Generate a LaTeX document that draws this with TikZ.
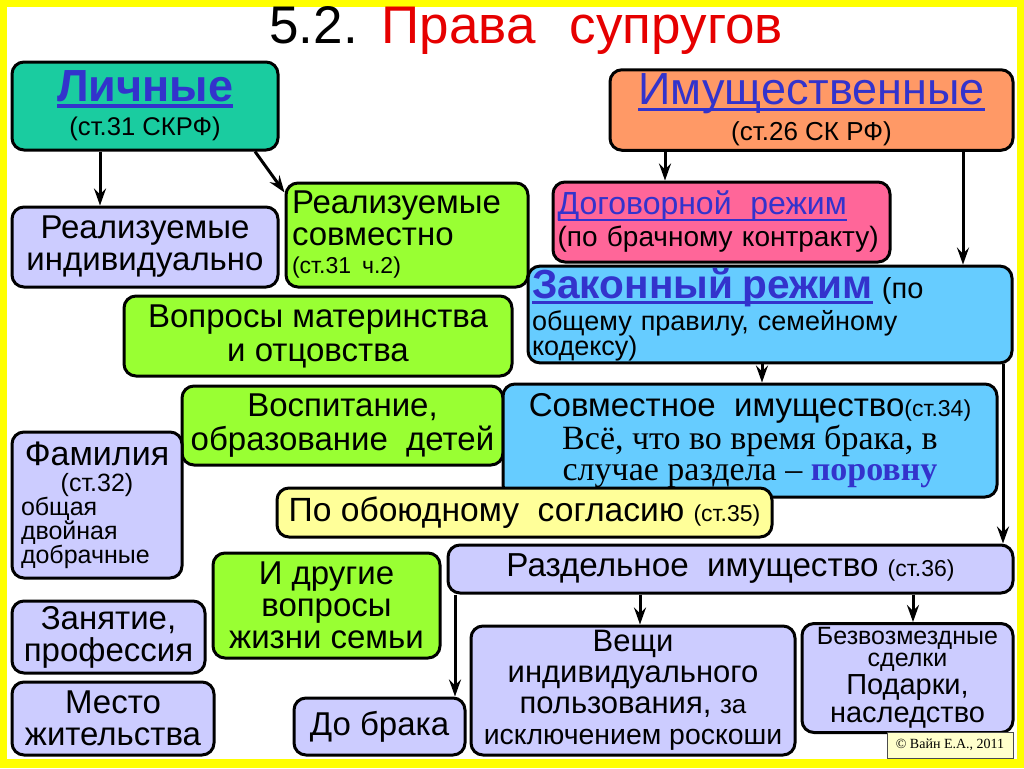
\documentclass[tikz,border=0pt]{standalone}
\usepackage{fontspec}
\setmainfont{Liberation Sans}
\newfontfamily\timesru{Liberation Serif}
\usetikzlibrary{arrows.meta,positioning}
\definecolor{frameyel}{RGB}{255,255,0}
\definecolor{titlered}{RGB}{230,0,0}
\definecolor{txtblue}{RGB}{51,51,204}
\definecolor{tealbox}{RGB}{26,204,160}
\definecolor{orangebox}{RGB}{255,153,102}
\definecolor{pinkbox}{RGB}{255,102,153}
\definecolor{skybox}{RGB}{102,204,255}
\definecolor{greenbox}{RGB}{153,255,51}
\definecolor{lavbox}{RGB}{204,204,255}
\definecolor{lyelbox}{RGB}{255,255,153}
\definecolor{copybox}{RGB}{255,255,204}
\newcommand\fs[2]{\fontsize{#1pt}{#2pt}\selectfont}
\newcommand\ulbox[2][1pt]{\leavevmode\setbox0\hbox{#2}\rlap{\lower 3pt\hbox{\vrule width\wd0 height #1 depth 0pt}}\box0}

\begin{document}
\begin{tikzpicture}[x=0.5pt, y=-0.5pt,
    box/.style={draw, rounded corners=6pt, line width=1.5pt, inner sep=2pt, align=center},
    wh/.style 2 args={minimum width=#1*0.5pt, minimum height=#2*0.5pt},
    arr/.style={line width=1.5pt, -{Stealth[length=8.5pt, width=6pt, inset=3pt]}}]
    % frame
    \fill[frameyel] (0,0) rectangle (1024,768);
    \fill[white] (7,7) rectangle (1017,759);
    \useasboundingbox (0,0) rectangle (1024,768);
    \node[anchor=base west, inner sep=0pt, font=\fs{26.5}{30}] (title) at (269,43)
        {5.2.\hspace{12pt}{\color{titlered}Права\hspace{17pt}супругов}};

    % personal rights
    \node[box, fill=tealbox, wh={266}{88}, font=\fs{12.8}{13}] (lich) at (145,106)
        {{\fs{22.5}{24}\bfseries\color{txtblue}\ulbox[2pt]{Личные}}\\[4pt](ст.31 СКРФ)};
    \node[box, fill=lavbox, wh={266}{80}, font=\fs{16.5}{16}] (realind) at (145,247) {Реализуемые\\индивидуально};
    \node[box, fill=greenbox, wh={242}{104}, align=left, text width=115pt, font=\fs{16.5}{16}] (realsov) at (407,235)
        {Реализуемые\\совместно\\[-2pt]{\fs{11.5}{12}(ст.31 ч.2)}};
    \node[box, fill=greenbox, wh={388}{80}, font=\fs{16.5}{17}] (vopr) at (318,336) {Вопросы материнства\\и отцовства};
    \node[box, fill=greenbox, wh={321}{79}, font=\fs{16.5}{17}] (vosp) at (342.5,425.5) {Воспитание,\\образование\ \ детей};
    \node[box, fill=lavbox, wh={170}{146}, align=left, text width=76pt, inner sep=3pt] (famil) at (97,505)
        {{\centering\fs{17}{18}Фамилия\par\fs{12.5}{13}(ст.32)\par}{\raggedright\fs{12.5}{12}общая\par двойная\par добрачные\par}};
    \node[box, fill=greenbox, wh={227}{105}, font=\fs{16.5}{16}] (drug) at (326.5,605.5) {И другие\\вопросы\\жизни семьи};
    \node[box, fill=lavbox, wh={193}{72}, font=\fs{16.5}{16}] (zanyat) at (108.5,637) {Занятие,\\профессия};
    \node[box, fill=lavbox, wh={202}{73}, font=\fs{16.5}{16}] (mesto) at (113,718.5) {Место\\жительства};

    % property rights
    \node[box, fill=orangebox, wh={403}{80}, font=\fs{13}{13}] (imush) at (811.5,110)
        {{\fs{22.5}{24}\color{txtblue}\ulbox[1.4pt]{Имущественные}}\\[3pt](ст.26 СК РФ)};
    \node[box, fill=pinkbox, wh={337}{80}, align=left, text width=164pt, font=\fs{14}{16}] (dogov) at (721.5,222)
        {{\fs{16}{16}\color{txtblue}\ulbox[0.8pt]{Договорной\ \ режим}}\\(по брачному контракту)};
    \node[box, fill=skybox, wh={484}{87}, align=left, text width=238pt, inner sep=1pt, font=\fs{13.5}{16}] (zakon) at (770,314.5)
        {{\fs{20.3}{20}\bfseries\color{txtblue}\ulbox[1.5pt]{Законный режим}} {\fs{14.5}{16}(по}\\общему правилу, семейному\\[-3.5pt]кодексу)};
    \node[box, fill=skybox, wh={494}{113}, font=\fs{16.5}{15.5}] (sovm) at (750,440.5)
        {Совместное\ \ имущество{\fs{11.5}{12}(ст.34)}\\{\timesru\fs{17}{15.5}Всё, что во время брака, в}\\{\timesru\fs{17}{15.5}случае раздела – {\bfseries\color{txtblue}поровну}}};
    \node[box, fill=lyelbox, wh={495}{49}, font=\fs{16.8}{17}] (obou) at (524.5,512.5) {По обоюдному\ \ согласию {\fs{11.5}{12}(ст.35)}};
    \node[box, fill=lavbox, wh={565}{48}, font=\fs{16.6}{17}] (razd) at (730.5,569) {Раздельное\ \ имущество {\fs{11.5}{12}(ст.36)}};
    \node[box, fill=lavbox, wh={171}{57}, font=\fs{16.5}{17}] (dobraka) at (379.5,726.5) {До брака};
    \node[box, fill=lavbox, wh={324}{129}, inner sep=1pt, font=\fs{15.5}{15.5}] (veshi) at (633,690.5)
        {Вещи\\индивидуального\\пользования, {\fs{13}{13}за}\\{\fs{14.2}{14}исключением роскоши}};
    \node[box, fill=lavbox, wh={211}{104}, font=\fs{14.5}{14}] (bezv) at (907.5,678)
        {{\fs{12.5}{12}Безвозмездные}\\[-3pt]{\fs{12.5}{12}сделки}\\Подарки,\\наследство};
    \node[draw=black!70, fill=copybox, line width=0.5pt, wh={126}{26}, font=\timesru\fs{7}{8}] (copy) at (950,745) {© Вайн Е.А., 2011};

    % arrows
    \draw[arr] (lich.south -| 100,0) -- (realind.north -| 100,0);
    \draw[arr] (lich.south -| 255,0) -- ([yshift=-5.5pt]realsov.north west);
    \draw[arr] (imush.south -| 665,0) -- (dogov.north -| 665,0);
    \draw[arr] (imush.south -| 963,0) -- (zakon.north -| 963,0);
    \draw[arr] (zakon.south -| 762,0) -- (sovm.north -| 762,0);
    \draw[arr] (zakon.south -| 1003,0) -- (razd.north -| 1003,0);
    \draw[arr] (razd.south -| 455,0) -- (dobraka.north -| 455,0);
    \draw[arr] (razd.south -| 640,0) -- (veshi.north -| 640,0);
    \draw[arr] (razd.south -| 913,0) -- (bezv.north -| 913,0);
\end{tikzpicture}
\end{document}
